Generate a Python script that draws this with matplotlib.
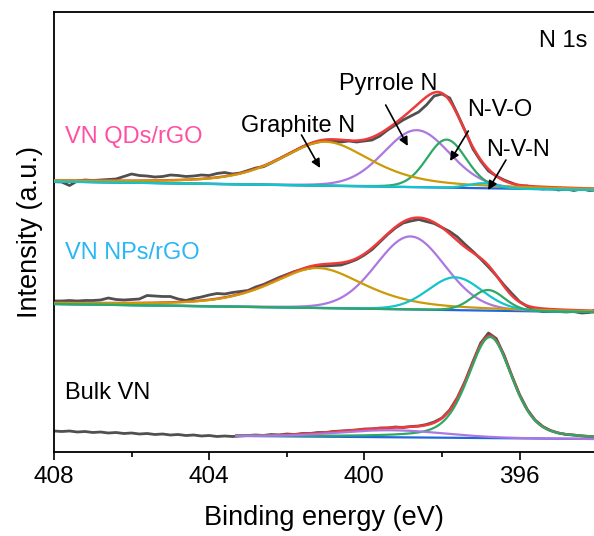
import numpy as np
import matplotlib
matplotlib.use("Agg")
import matplotlib.pyplot as plt
from matplotlib.ticker import MultipleLocator

plt.rcParams['font.family'] = ['Liberation Sans', 'DejaVu Sans']

# measured N 1s spectra, sampled every 0.2 eV from 408 to 394 eV (stacked, a.u.)
energy = np.linspace(408.0, 394.0, 71)

qds_raw = [270.3, 270, 266.5, 271, 272, 271.5, 272, 272.5, 273, 275.5,
           278, 276.5, 276, 275, 275.5, 277, 276.5, 275.5, 276, 277,
           276.5, 278.5, 279.5, 278, 279, 281.5, 284, 285.3, 289, 293,
           297, 301, 305, 308, 310, 311.5, 311, 310, 311, 310,
           311, 312, 316, 322, 327, 332, 336, 340, 347, 356,
           358, 354, 338, 321, 303, 291, 281, 276, 272, 269,
           266, 266, 264, 263, 264, 262, 263, 261.5, 263, 261.5, 262]

nps_raw = [151, 151, 151.5, 151, 151.5, 151.5, 152, 154, 152.5, 152,
           152.5, 153, 156.5, 156, 155.5, 155.5, 153, 151.5, 153.5, 155,
           157, 158.5, 158, 159.5, 160.5, 161.5, 165, 167.5, 171, 174.5,
           177.5, 180.5, 182.5, 184, 186.5, 186, 186.5, 187, 189.5, 192.5,
           197, 202.5, 210, 217.5, 224, 229, 231, 232.5, 230.5, 228.5,
           224.5, 220.5, 215, 207.5, 200.5, 193, 185, 176.5, 167, 158.5,
           150.5, 145.5, 142, 140.5, 140.5, 140.5, 140, 140.5, 139, 139.5, 143]

bulk_raw = [21, 20.5, 21, 20, 20.5, 19.5, 20, 19, 19.5, 18.5,
            19, 18, 18.5, 17.5, 18, 17, 17.5, 16.5, 17, 16,
            16.5, 15.5, 16, 15.5, 16, 16.5, 17, 16.5, 17.5, 17,
            18, 17.5, 18.5, 18.5, 19.5, 19.5, 20.5, 21, 21.5, 22,
            23, 23, 24, 24, 25, 24.5, 25.5, 26, 27.5, 30,
            34, 42, 54.5, 71, 90.5, 109, 119, 113.5, 97, 76.5,
            57.5, 42.5, 32, 25.5, 21.5, 19, 17.5, 17, 16, 15.5, 15]

# linear backgrounds: value at 408 eV and at 394 eV
qds_bg = (270.5, 262.0)
nps_bg = (148.0, 139.7)
bulk_bg = (17.6, 13.0)
bulk_fit_start = 403.3

# fitted components: centre (eV), height, FWHM (eV), Lorentzian fraction, colour
qds_centers = [401.0, 398.65, 397.88, 396.94]
qds_heights = [44, 57, 48, 5]
qds_fwhm = [2.8, 2.0, 1.2, 0.9]
qds_eta = [0.6, 0.1, 0.1, 0.0]
qds_colors = ['#CC9A06', '#AC78E0', '#2EA866', '#14C4CC']

nps_centers = [401.2, 398.81, 397.66, 396.81]
nps_heights = [40, 73, 32.8, 20.6]
nps_fwhm = [2.9, 2.1, 1.65, 1.0]
nps_eta = [0.6, 0.1, 0.1, 0.1]
nps_colors = ['#CC9A06', '#AC78E0', '#14C4CC', '#2EA866']

bulk_centers = [399.3, 396.76]
bulk_heights = [7, 101]
bulk_fwhm = [3.2, 1.35]
bulk_eta = [0.0, 0.4]
bulk_colors = ['#AC78E0', '#2EA866']

GRAY = '#505050'
RED = '#EE3A3A'
BLUE = '#1F66E0'


def pvoigt(x, c, h, w, eta):
    d2 = ((x - c) / w) ** 2
    return h * ((1 - eta) * np.exp(-4 * np.log(2) * d2) + eta / (1 + 4 * d2))


def background(x, bg):
    return bg[1] + (bg[0] - bg[1]) * (x - 394.0) / 14.0


def draw_fit(ax, x, bg, centers, heights, fwhm, eta, colors):
    base = background(x, bg)
    comps = [pvoigt(x, c, h, w, e) for c, h, w, e in zip(centers, heights, fwhm, eta)]
    ax.plot(x, base + sum(comps), color=RED, lw=1.8, zorder=3)
    ax.plot(x, base, color=BLUE, lw=1.6, zorder=4)
    order = np.argsort(heights)[::-1]
    for i in order:
        ax.plot(x, base + comps[i], color=colors[i], lw=1.6, zorder=5)


fig = plt.figure(figsize=(5.94, 5.36), dpi=100)
ax = fig.add_axes([54 / 594, 84 / 536, 540 / 594, 440 / 536])

xf = np.linspace(408.0, 394.0, 561)
xb = np.linspace(bulk_fit_start, 394.0, 400)

for raw in (qds_raw, nps_raw, bulk_raw):
    ax.plot(energy, raw, color=GRAY, lw=2.0, zorder=2)

draw_fit(ax, xf, qds_bg, qds_centers, qds_heights, qds_fwhm, qds_eta, qds_colors)
draw_fit(ax, xf, nps_bg, nps_centers, nps_heights, nps_fwhm, nps_eta, nps_colors)
draw_fit(ax, xb, bulk_bg, bulk_centers, bulk_heights, bulk_fwhm, bulk_eta, bulk_colors)

fs = 17
ax.text(407.72, 315, 'VN QDs/rGO', color='#FF4FA3', fontsize=fs, va='center', ha='left')
ax.text(407.72, 199, 'VN NPs/rGO', color='#2BB7F5', fontsize=fs, va='center', ha='left')
ax.text(407.72, 59, 'Bulk VN', color='black', fontsize=fs, va='center', ha='left')
ax.text(394.26, 411, 'N 1s', color='black', fontsize=fs, va='center', ha='right')

# peak labels with arrows: (text, text pos, arrow tail, arrow head)
labels = [
    ('Graphite N', (401.72, 326), (401.62, 317), (401.14, 284)),
    ('Pyrrole N', (399.39, 368), (399.45, 347), (398.88, 306)),
    ('N-V-O', (396.5, 342), (397.32, 321), (397.79, 291)),
    ('N-V-N', (396.04, 302), (396.35, 292), (396.81, 262)),
]
for name, tpos, tail, head in labels:
    ax.text(tpos[0], tpos[1], name, fontsize=fs, ha='center', va='center')
    ax.annotate('', xy=head, xytext=tail,
                arrowprops=dict(arrowstyle='-|>', color='black', lw=1.2,
                                mutation_scale=13, shrinkA=0, shrinkB=0),
                zorder=6)

ax.set_xlim(408, 394.08)
ax.set_ylim(0, 440)
ax.set_xticks([408, 404, 400, 396])
ax.xaxis.set_minor_locator(MultipleLocator(2))
ax.set_yticks([])
ax.tick_params(axis='x', which='major', direction='out', length=6, width=1.2,
               labelsize=17.5, pad=4)
ax.tick_params(axis='x', which='minor', direction='out', length=3.5, width=1.2)
ax.spines['right'].set_visible(False)
for s in ('left', 'top', 'bottom'):
    ax.spines[s].set_linewidth(1.3)

ax.set_xlabel('Binding energy (eV)', fontsize=19.5, labelpad=12)
ax.set_ylabel('Intensity (a.u.)', fontsize=19.5, labelpad=8)

fig.savefig('out.png', dpi=100)
